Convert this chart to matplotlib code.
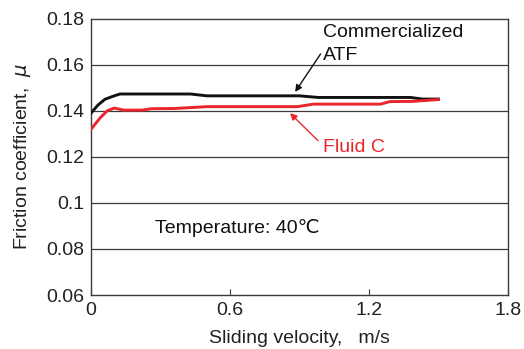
import numpy as np
import matplotlib
matplotlib.use("Agg")
import matplotlib.pyplot as plt

plt.rcParams["font.family"] = ["Liberation Sans", "DejaVu Sans"]

# Friction curves (sliding velocity m/s vs friction coefficient)
atf_v = [0, 0.03, 0.06, 0.10, 0.125, 0.43, 0.50, 0.90, 0.98, 1.38, 1.43, 1.50]
atf_mu = [0.139, 0.1425, 0.1450, 0.1465, 0.1473, 0.1473, 0.1465, 0.1465,
          0.1458, 0.1458, 0.1451, 0.1451]

fluid_v = [0, 0.04, 0.07, 0.10, 0.14, 0.22, 0.26, 0.36, 0.50, 0.89, 0.96,
           1.25, 1.29, 1.39, 1.50]
fluid_mu = [0.132, 0.137, 0.140, 0.1412, 0.1403, 0.1403, 0.1409, 0.1410,
            0.1418, 0.1418, 0.1429, 0.1429, 0.1440, 0.1441, 0.1449]

x_ticks = [0, 0.6, 1.2, 1.8]
x_labels = ["0", "0.6", "1.2", "1.8"]
y_ticks = [0.06, 0.08, 0.1, 0.12, 0.14, 0.16, 0.18]
y_labels = ["0.06", "0.08", "0.1", "0.12", "0.14", "0.16", "0.18"]

red = "#e8262b"
dark = "#3a3a3a"

fig = plt.figure(figsize=(5.24, 3.49), dpi=100)
ax = fig.add_axes([0.1737, 0.1547, 0.7958, 0.7917])

for y in y_ticks[1:-1]:
    ax.axhline(y, color=dark, lw=0.9, zorder=1)

ax.plot(atf_v, atf_mu, color="#111111", lw=2.1, zorder=3)
ax.plot(fluid_v, fluid_mu, color=red, lw=2.1, zorder=3)

ax.set_xlim(0, 1.8)
ax.set_ylim(0.06, 0.18)
ax.set_xticks(x_ticks)
ax.set_xticklabels(x_labels)
ax.set_yticks(y_ticks)
ax.set_yticklabels(y_labels)
ax.tick_params(axis="x", direction="in", length=4, color=dark, labelsize=14,
               pad=5, labelcolor="#222222")
ax.tick_params(axis="y", length=0, labelsize=14, pad=5, labelcolor="#222222")
for s in ax.spines.values():
    s.set_color(dark)
    s.set_linewidth(1.0)

ax.set_xlabel("Sliding velocity,   m/s", fontsize=14, color="#222222",
              labelpad=8)
ax.set_ylabel(r"Friction coefficient,  $\mu$", fontsize=14, color="#222222",
              labelpad=9)

# Curve labels with leader arrows
ax.text(1.0, 0.1741, "Commercialized", fontsize=14, color="#111111",
        va="center", ha="left")
ax.text(1.0, 0.1640, "ATF", fontsize=14, color="#111111",
        va="center", ha="left")
ax.annotate("", xy=(0.881, 0.1482), xytext=(0.991, 0.1647),
            arrowprops=dict(arrowstyle="-|>", color="#111111", lw=1.0,
                            mutation_scale=10, shrinkA=0, shrinkB=0))

ax.text(1.0, 0.1242, "Fluid C", fontsize=14, color=red,
        va="center", ha="left")
ax.annotate("", xy=(0.859, 0.1390), xytext=(0.98, 0.1270),
            arrowprops=dict(arrowstyle="-|>", color=red, lw=1.0,
                            mutation_scale=10, shrinkA=0, shrinkB=0))

ax.text(0.276, 0.0889, "Temperature: 40\u2103", fontsize=14,
        color="#111111", va="center", ha="left")

fig.savefig("out.png", dpi=100)
